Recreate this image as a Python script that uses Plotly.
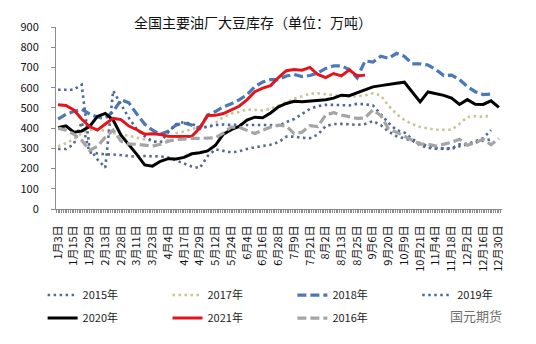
import plotly.graph_objects as go

# Category labels along the x axis (one every half-month or so)
date_labels = ["1月3日", "1月15日", "1月29日", "2月13日", "2月28日", "3月11日", "3月23日",
               "4月4日", "4月17日", "4月29日", "5月12日", "5月24日", "6月4日", "6月16日",
               "6月28日", "7月9日", "7月21日", "8月2日", "8月13日", "8月25日", "9月6日",
               "9月20日", "10月9日", "10月21日", "11月4日", "11月18日", "12月2日",
               "12月16日", "12月30日"]

# Weekly soybean stocks (万吨), sampled twice per label interval
v2015 = [297, 297, 320, 430, 280, 275, 270, 270, 265, 262, 258, 262, 262, 260, 255, 240, 228, 210, 202,
         262, 295, 288, 280, 285, 297, 305, 311, 318, 330, 358, 358, 352, 350, 368, 410, 420, 421, 418,
         416, 420, 435, 415, 383, 360, 350, 338, 315, 302, 298, 297, 297, 310, 320, 330, 338, 344]
v2017 = [310, 325, 345, 375, 390, 397, 385, 375, 368, 362, 352, 342, 335, 335, 340, 375, 383, 395, 407,
         407, 425, 455, 472, 480, 492, 490, 488, 495, 512, 525, 545, 557, 570, 572, 568, 562, 558, 555,
         558, 562, 572, 562, 510, 470, 440, 420, 405, 400, 392, 392, 392, 421, 455, 459, 455, 462]
v2018 = [445, 468, 482, 493, 470, 455, 448, 482, 540, 525, 470, 420, 390, 370, 385, 415, 425, 415, 398,
         465, 482, 505, 520, 540, 565, 605, 628, 640, 640, 658, 665, 655, 660, 672, 695, 708, 708, 690,
         648, 732, 727, 755, 745, 770, 755, 718, 718, 712, 690, 660, 662, 640, 605, 580, 566, 568]
v2019 = [590, 590, 590, 615, 300, 245, 205, 585, 520, 450, 395, 360, 335, 328, 380, 420, 430, 420, 405,
         405, 415, 418, 416, 416, 416, 416, 418, 415, 410, 430, 445, 470, 495, 508, 515, 515, 515, 512,
         520, 518, 512, 470, 425, 390, 378, 345, 325, 311, 302, 300, 300, 320, 322, 335, 350, 390]
v2020 = [402, 411, 380, 385, 408, 458, 473, 440, 365, 318, 270, 218, 212, 236, 249, 247, 255, 273, 278,
         287, 315, 370, 392, 408, 440, 454, 451, 475, 505, 522, 533, 530, 534, 537, 540, 548, 563, 560,
         575, 590, 604, 610, 617, 622, 627, 580, 530, 579, 570, 562, 548, 517, 541, 518, 517, 535, 502]
v2021 = [515, 512, 490, 445, 408, 390, 420, 448, 442, 410, 392, 370, 372, 368, 360, 358, 358, 360, 400,
         462, 463, 472, 490, 508, 540, 580, 598, 610, 650, 684, 690, 686, 700, 665, 650, 670, 658, 688,
         658, 662]
v2016 = [400, 390, 370, 340, 290, 310, 355, 390, 335, 322, 320, 316, 311, 320, 335, 343, 348, 349, 349,
         349, 352, 375, 405, 405, 390, 373, 390, 405, 415, 410, 373, 380, 412, 408, 465, 476, 465, 455,
         448, 450, 490, 462, 395, 380, 362, 340, 321, 321, 311, 320, 330, 345, 315, 328, 345, 318, 349]

# name, values, colour, dash pattern, width, legend column
series = [
    ("2015年", v2015, "#5B6A88", "2.5px,3.5px", 2.6, "legend"),
    ("2017年", v2017, "#C9C396", "2.5px,3.5px", 2.6, "legend2"),
    ("2018年", v2018, "#4A78B8", "9px,4px", 3.2, "legend3"),
    ("2019年", v2019, "#4C679E", "2.5px,3.5px", 2.6, "legend4"),
    ("2020年", v2020, "#000000", "solid", 3.0, "legend"),
    ("2021年", v2021, "#E3151C", "solid", 3.0, "legend2"),
    ("2016年", v2016, "#A5A5A5", "9px,4px", 3.2, "legend3"),
]

fig = go.Figure()
for name, vals, color, dash, width, leg in series:
    xs = [i * 0.5 for i in range(len(vals))]
    fig.add_trace(go.Scatter(
        x=xs, y=vals, name=name, mode="lines", legend=leg, legendgroup=name,
        line=dict(color=color, width=width, dash=dash),
    ))

axis_grey = "#8C8C8C"
cjk = "Noto Sans CJK SC"


def legend_col(xpos):
    return dict(
        orientation="v", x=xpos, y=-0.393, xanchor="left", yanchor="top",
        font=dict(family=cjk, size=11, color="#222222"),
        bgcolor="rgba(0,0,0,0)", tracegroupgap=4, itemwidth=30,
    )


fig.update_layout(
    width=536, height=344,
    margin=dict(l=56, r=34, t=27, b=129),
    paper_bgcolor="white", plot_bgcolor="white",
    font=dict(family=cjk, size=11, color="#111111"),
    showlegend=True,
    legend=legend_col(-0.030),
    legend2=legend_col(0.250),
    legend3=legend_col(0.530),
    legend4=legend_col(0.810),
    xaxis=dict(
        range=[-0.13, 28.2],
        tickmode="array",
        tickvals=list(range(len(date_labels))),
        ticktext=date_labels,
        tickangle=-90,
        ticks="outside", ticklen=3, tickcolor=axis_grey, tickwidth=1,
        ticklabelstandoff=8,
        minor=dict(dtick=1 / 9, tick0=0, ticks="outside", ticklen=3,
                   tickcolor=axis_grey, tickwidth=1),
        showline=True, linecolor=axis_grey, linewidth=1,
        showgrid=False, zeroline=False,
        tickfont=dict(family=cjk, size=11, color="#111111"),
    ),
    yaxis=dict(
        range=[0, 900], dtick=100, tick0=0,
        ticks="outside", ticklen=4, tickcolor=axis_grey,
        showline=True, linecolor=axis_grey, linewidth=1,
        showgrid=False, zeroline=False,
        tickfont=dict(family=cjk, size=11, color="#111111"),
        ticklabelstandoff=10,
    ),
)

fig.add_annotation(
    text="全国主要油厂大豆库存（单位：万吨）",
    xref="paper", yref="paper", x=0.442, y=1.027,
    xanchor="center", yanchor="middle", showarrow=False,
    font=dict(family=cjk, size=14, color="#111111"),
)
fig.add_annotation(
    text="国元期货",
    xref="paper", yref="paper", x=1.005, y=-0.585,
    xanchor="right", yanchor="middle", showarrow=False,
    font=dict(family=cjk, size=13, color="#707070"),
)

fig.write_html("out.html")
